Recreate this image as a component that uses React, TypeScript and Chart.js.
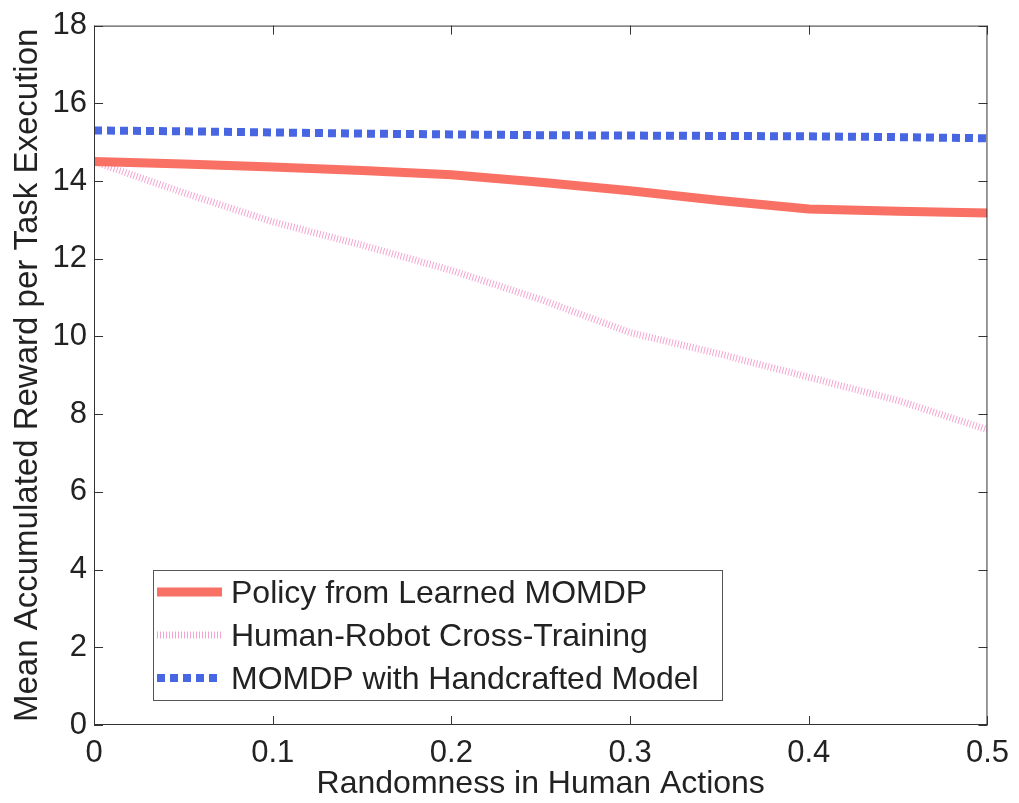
import React, { useEffect, useRef } from "react";
import { Chart, registerables } from "chart.js";

Chart.register(...registerables);

const xValues = [0, 0.05, 0.1, 0.15, 0.2, 0.25, 0.3, 0.35, 0.4, 0.45, 0.5];
const learnedPolicy = [14.5, 14.44, 14.36, 14.27, 14.16, 13.97, 13.75, 13.5, 13.28, 13.22, 13.18];
const crossTraining = [14.5, 13.7, 12.95, 12.35, 11.7, 10.95, 10.1, 9.55, 8.95, 8.35, 7.6];
const handcrafted = [15.3, 15.28, 15.25, 15.22, 15.2, 15.18, 15.17, 15.16, 15.15, 15.13, 15.1];
const xTicks = [0, 0.1, 0.2, 0.3, 0.4, 0.5];
const yTicks = [0, 2, 4, 6, 8, 10, 12, 14, 16, 18];
const seriesNames = ["Policy from Learned MOMDP", "Human-Robot Cross-Training", "MOMDP with Handcrafted Model"];

const FONT = "'Liberation Sans', Arial, sans-serif";
const RED = "rgb(249,112,100)";
const PINK = "rgba(240,125,190,0.7)";
const BLUE = "rgb(72,102,225)";

const framePlugin = {
  id: "frame",
  afterDraw(chart: any) {
    const { ctx, chartArea, scales } = chart;
    const { left, right, top, bottom } = chartArea;
    ctx.save();
    ctx.strokeStyle = "#333";
    ctx.lineWidth = 1;
    ctx.strokeRect(left + 0.5, top + 0.5, right - left - 1, bottom - top - 1);
    const tl = 9;
    ctx.beginPath();
    for (const v of yTicks) {
      const y = Math.round(scales.y.getPixelForValue(v)) + 0.5;
      ctx.moveTo(left, y); ctx.lineTo(left + tl, y);
      ctx.moveTo(right, y); ctx.lineTo(right - tl, y);
    }
    for (const v of xTicks) {
      const x = Math.round(scales.x.getPixelForValue(v)) + 0.5;
      ctx.moveTo(x, bottom); ctx.lineTo(x, bottom - tl);
      ctx.moveTo(x, top); ctx.lineTo(x, top + tl);
    }
    ctx.stroke();

    // legend
    const bx = left + 59, by = bottom - 155, bw = 569, bh = 130;
    ctx.fillStyle = "#fff";
    ctx.fillRect(bx, by, bw, bh);
    ctx.strokeStyle = "#555";
    ctx.strokeRect(bx + 0.5, by + 0.5, bw, bh);
    const styles = [
      { c: RED, w: 9, d: [] as number[] },
      { c: PINK, w: 7, d: [1, 2] },
      { c: BLUE, w: 8, d: [8, 5] },
    ];
    ctx.font = `32px ${FONT}`;
    ctx.textBaseline = "middle";
    seriesNames.forEach((name, i) => {
      const y = by + 22 + i * 43;
      const s = styles[i];
      ctx.beginPath();
      ctx.strokeStyle = s.c;
      ctx.lineWidth = s.w;
      ctx.setLineDash(s.d);
      ctx.moveTo(bx + 4, y);
      ctx.lineTo(bx + 69, y);
      ctx.stroke();
      ctx.setLineDash([]);
      ctx.fillStyle = "#222";
      ctx.fillText(name, bx + 78, y + 2);
    });
    ctx.restore();
  },
};

export default function App() {
  const ref = useRef<HTMLCanvasElement>(null);
  useEffect(() => {
    if (!ref.current) return;
    const mk = (ys: number[]) => xValues.map((x, i) => ({ x, y: ys[i] }));
    const chart = new Chart(ref.current, {
      type: "line",
      data: {
        datasets: [
          { label: seriesNames[0], data: mk(learnedPolicy), borderColor: RED, borderWidth: 9, pointRadius: 0, borderJoinStyle: "round" as any },
          { label: seriesNames[1], data: mk(crossTraining), borderColor: PINK, borderWidth: 7, borderDash: [1, 2], pointRadius: 0 },
          { label: seriesNames[2], data: mk(handcrafted), borderColor: BLUE, borderWidth: 8, borderDash: [8, 5], pointRadius: 0 },
        ],
      },
      options: {
        animation: false,
        responsive: false,
        maintainAspectRatio: false,
        layout: { padding: { top: 22, right: 24, left: 0, bottom: 0 } },
        plugins: { legend: { display: false }, tooltip: { enabled: false } },
        scales: {
          x: {
            type: "linear",
            min: 0,
            max: 0.5,
            afterBuildTicks: (s: any) => { s.ticks = xTicks.map((v) => ({ value: v })); },
            afterFit: (s: any) => { s.height = 78; },
            grid: { display: false, drawTicks: false },
            border: { display: false },
            ticks: { font: { family: FONT, size: 31 }, color: "#222", padding: 10, maxRotation: 0, callback: (v: any) => String(Number(v)) },
            title: { display: true, text: "Randomness in Human Actions", font: { family: FONT, size: 32 }, color: "#222", padding: { top: 0, bottom: 0 } },
          },
          y: {
            type: "linear",
            min: 0,
            max: 18,
            afterBuildTicks: (s: any) => { s.ticks = yTicks.map((v) => ({ value: v })); },
            afterFit: (s: any) => { s.width = 94; },
            grid: { display: false, drawTicks: false },
            border: { display: false },
            ticks: { font: { family: FONT, size: 31 }, color: "#222", padding: 7 },
            title: { display: true, text: "Mean Accumulated Reward per Task Execution", font: { family: FONT, size: 33 }, color: "#222", padding: { top: 8, bottom: 0 } },
          },
        },
      },
      plugins: [framePlugin],
    });
    return () => chart.destroy();
  }, []);
  return (
    <div style={{ position: "fixed", left: 0, top: 0, width: 1019, height: 803, background: "#fff" }}>
      <canvas ref={ref} width={1019} height={803} style={{ display: "block" }} />
    </div>
  );
}
